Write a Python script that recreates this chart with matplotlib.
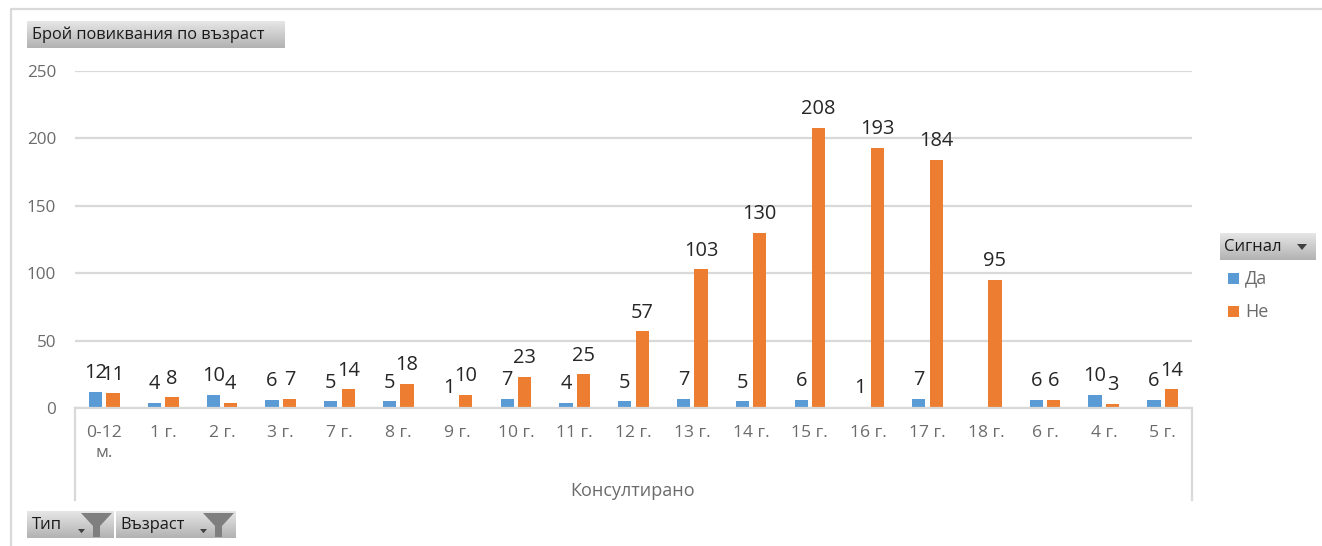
import numpy as np
import matplotlib
matplotlib.use("Agg")
import matplotlib.pyplot as plt
from matplotlib.patches import Polygon, Rectangle

plt.rcParams['font.family'] = ['Open Sans', 'DejaVu Sans']

ages = ["0-12\nм.", "1 г.", "2 г.", "3 г.", "7 г.", "8 г.", "9 г.", "10 г.", "11 г.", "12 г.",
        "13 г.", "14 г.", "15 г.", "16 г.", "17 г.", "18 г.", "6 г.", "4 г.", "5 г."]
yes_calls = [12, 4, 10, 6, 5, 5, 1, 7, 4, 5, 7, 5, 6, 1, 7, None, 6, 10, 6]
no_calls = [11, 8, 4, 7, 14, 18, 10, 23, 25, 57, 103, 130, 208, 193, 184, 95, 6, 3, 14]
y_ticks = [0, 50, 100, 150, 200, 250]

BLUE = "#5b9bd5"
ORANGE = "#ed7d31"
GRID = "#d9d9d9"
TICK_TEXT = "#6b6b6b"
W, H = 1322, 546


def DrawButton(overlay, x0, y0, x1, y1):
    # Grey pivot chart field button with a vertical gradient
    gradient = np.linspace(0.90, 0.70, 32).reshape(-1, 1)
    overlay.imshow(gradient, extent=(x0, x1, y1, y0), cmap="gray", vmin=0, vmax=1,
                   aspect="auto", zorder=1, interpolation="bilinear")


def DrawFunnel(overlay, x0):
    overlay.add_patch(Polygon([(x0, 513), (x0 + 31, 513), (x0 + 19, 526), (x0 + 19, 537),
                               (x0 + 12, 537), (x0 + 12, 526)], color="#7f7f7f", lw=0, zorder=2))


def DrawArrow(overlay, x0, y0, size=7):
    overlay.add_patch(Polygon([(x0, y0), (x0 + size, y0), (x0 + size / 2, y0 + size * 0.6)],
                              color="#404040", lw=0, zorder=2))


fig = plt.figure(figsize=(W / 100, H / 100), dpi=100)

# Overlay in pixel coordinates for the frame, buttons and the legend
overlay = fig.add_axes([0, 0, 1, 1], zorder=3)
overlay.set_xlim(0, W)
overlay.set_ylim(H, 0)
overlay.axis("off")
overlay.patch.set_alpha(0)

overlay.plot([10.5, 10.5, W], [H, 9, 9], color=GRID, lw=1.6, zorder=1)

DrawButton(overlay, 27, 21, 285, 48)
overlay.text(32, 35, "Брой повиквания по възраст", fontsize=11.8, color="#1a1a1a", va="center")

DrawButton(overlay, 27, 511, 114, 538)
overlay.text(32, 525, "Тип", fontsize=12, color="#1a1a1a", va="center")
DrawArrow(overlay, 78, 529)
DrawFunnel(overlay, 81)

DrawButton(overlay, 116, 511, 236, 538)
overlay.text(120, 525, "Възраст", fontsize=11.8, color="#1a1a1a", va="center")
DrawArrow(overlay, 200, 529)
DrawFunnel(overlay, 203)

DrawButton(overlay, 1220, 233, 1316, 260)
overlay.text(1224, 247, "Сигнал", fontsize=12, color="#1a1a1a", va="center")
DrawArrow(overlay, 1297, 244, size=10)

overlay.add_patch(Rectangle((1228, 273), 11, 11, color=BLUE, lw=0))
overlay.text(1245, 278.5, "Да", fontsize=13, color=TICK_TEXT, va="center")
overlay.add_patch(Rectangle((1228, 306), 11, 11, color=ORANGE, lw=0))
overlay.text(1245, 312, "Не", fontsize=13, color=TICK_TEXT, va="center")

# Multi level category axis lines and outer label
overlay.plot([75, 75], [408, 500], color=GRID, lw=1.6, zorder=1)
overlay.plot([1192, 1192], [408, 500], color=GRID, lw=1.6, zorder=1)
overlay.text(633, 491, "Консултирано", fontsize=13, color=TICK_TEXT, ha="center", va="center")

# Main chart, axes placed on the plot area of the reference
ax = fig.add_axes([75 / W, 1 - 408 / H, (1192 - 75) / W, (408 - 71) / H], zorder=2)
x = np.arange(len(ages))
bar_width = 0.226
offset = 0.148
yes_values = [np.nan if v is None else v for v in yes_calls]
yes_bars = ax.bar(x - offset, yes_values, bar_width, color=BLUE, zorder=2)
no_bars = ax.bar(x + offset, no_calls, bar_width, color=ORANGE, zorder=2)

for bars, values in ((yes_bars, yes_calls), (no_bars, no_calls)):
    for bar, value in zip(bars, values):
        if value is None:
            continue
        ax.annotate(str(value), (bar.get_x() + bar.get_width() / 2, value),
                    xytext=(0, 13.4), textcoords="offset points", ha="center", va="center",
                    fontsize=14.4, color="#262626", annotation_clip=False, zorder=4)

ax.set_xlim(-0.5, len(ages) - 0.5)
ax.set_ylim(0, 250)
ax.set_yticks(y_ticks)
ax.set_xticks(x)
ax.set_xticklabels(ages, linespacing=1.3)
ax.tick_params(axis="y", length=0, pad=13.5, labelsize=12.3, labelcolor=TICK_TEXT)
ax.tick_params(axis="x", length=0, pad=12.5, labelsize=12.6, labelcolor=TICK_TEXT)
ax.grid(axis="y", color=GRID, lw=1.6, zorder=0)
ax.set_axisbelow(True)
for side in ("top", "right", "left"):
    ax.spines[side].set_visible(False)
ax.spines["bottom"].set_color(GRID)
ax.spines["bottom"].set_linewidth(1.6)
ax.patch.set_alpha(0)

fig.savefig("out.png", dpi=100)
